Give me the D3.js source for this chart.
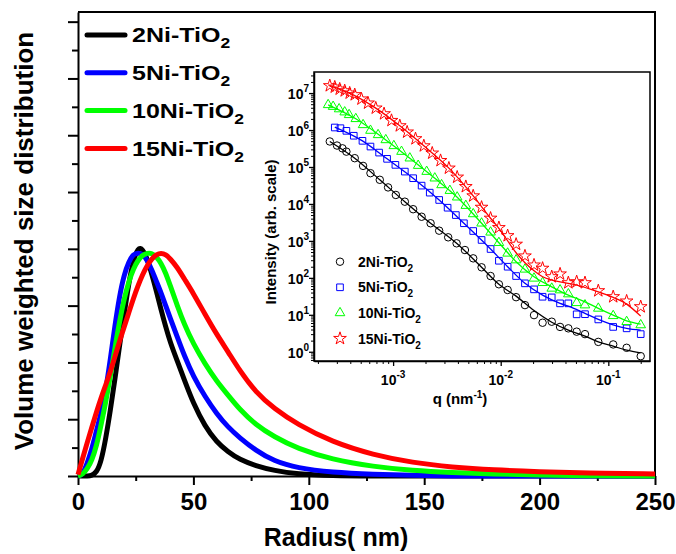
<!DOCTYPE html>
<html>
<head>
<meta charset="utf-8">
<script src="https://cdn.jsdelivr.net/npm/d3@7"></script>
<style>
  body { margin: 0; background: #fff; }
  text { font-family: Arial, "Liberation Sans", sans-serif; font-weight: bold; fill: #000; }
</style>
</head>
<body>
<div id="chart"></div>
<script>
// ---- main plot: volume weighted size distribution ----
const radius = [0, 2, 4, 6, 8, 10, 12, 14, 16, 18, 20, 22, 24, 26, 28, 30, 32, 34, 36, 38, 40, 43, 46, 50, 55, 60, 65, 70, 77, 85, 95, 110, 128, 145, 162, 180, 200, 220, 250];
const dist2Ni = [0, 0, 0, 0.02, 0.12, 0.5, 1.3, 2.3, 3.4, 4.6, 5.7, 6.8, 7.6, 8.05, 8.0, 7.65, 7.1, 6.5, 5.85, 5.25, 4.7, 4.05, 3.4, 2.55, 1.75, 1.2, 0.85, 0.58, 0.36, 0.19, 0.07, 0.01, 0, 0, 0, 0, 0, 0, 0];
const dist5Ni = [0, 0.05, 0.45, 0.95, 1.6, 2.2, 3.0, 4.1, 5.3, 6.35, 7.1, 7.55, 7.82, 7.86, 7.82, 7.6, 7.25, 6.85, 6.45, 6.0, 5.55, 4.9, 4.25, 3.5, 2.8, 2.2, 1.72, 1.35, 0.9, 0.52, 0.28, 0.13, 0.06, 0.02, 0, 0, 0, 0, 0];
const dist10Ni = [0, 0.05, 0.25, 0.55, 1.05, 1.8, 2.6, 3.5, 4.5, 5.45, 6.25, 6.85, 7.3, 7.6, 7.78, 7.85, 7.85, 7.72, 7.5, 7.15, 6.7, 6.0, 5.35, 4.65, 3.95, 3.35, 2.85, 2.35, 1.8, 1.38, 0.97, 0.58, 0.33, 0.19, 0.12, 0.07, 0.03, 0.01, 0];
const dist15Ni = [0.05, 0.62, 1.18, 1.72, 2.25, 2.75, 3.2, 3.67, 4.2, 4.75, 5.25, 5.75, 6.25, 6.7, 7.1, 7.42, 7.65, 7.8, 7.85, 7.8, 7.65, 7.35, 6.95, 6.43, 5.7, 5.0, 4.38, 3.72, 2.95, 2.37, 1.82, 1.2, 0.74, 0.47, 0.31, 0.21, 0.15, 0.11, 0.07];
const sampleNames = ["2Ni-TiO", "5Ni-TiO", "10Ni-TiO", "15Ni-TiO"];
const colors = ["#000000", "#0000ff", "#00ff00", "#ff0000"];
const xTicks = [0, 50, 100, 150, 200, 250];
const xMinor = [25, 75, 125, 175, 225];

// ---- inset: SAXS intensity ----
const q2 = [2.58e-4, 3.01e-4, 3.38e-4, 3.68e-4, 4.4e-4, 5.26e-4, 6.16e-4, 7.52e-4, 8.98e-4, 1.06e-3, 1.285e-3, 1.535e-3, 1.84e-3, 2.23e-3, 2.68e-3, 3.25e-3, 3.89e-3, 4.65e-3, 5.55e-3, 6.64e-3, 8.05e-3, 9.62e-3, 1.16e-2, 1.39e-2, 1.68e-2, 2.04e-2, 2.45e-2, 2.98e-2, 3.56e-2, 4.25e-2, 5.08e-2, 6.07e-2, 8.07e-2, 0.111, 0.148, 0.2];
const int2 = [4.9e5, 3.8e5, 3.2e5, 2.6e5, 1.73e5, 1.07e5, 6.8e4, 4.5e4, 2.8e4, 1.75e4, 1.15e4, 7.2e3, 4.5e3, 3.0e3, 1.89e3, 1.25e3, 860, 566, 337, 193, 112, 67, 47, 30, 18.3, 9.8, 6.1, 6.5, 4.7, 4.3, 3.5, 3.0, 1.85, 1.58, 1.28, 0.76];
const q5 = [2.87e-4, 3.24e-4, 3.68e-4, 4.31e-4, 5.19e-4, 6.16e-4, 7.41e-4, 8.79e-4, 1.05e-3, 1.285e-3, 1.535e-3, 1.84e-3, 2.19e-3, 2.68e-3, 3.21e-3, 3.83e-3, 4.55e-3, 5.55e-3, 6.64e-3, 8.05e-3, 9.62e-3, 1.16e-2, 1.39e-2, 1.68e-2, 2.04e-2, 2.45e-2, 2.98e-2, 3.56e-2, 4.25e-2, 5.08e-2, 6.07e-2, 8.07e-2, 0.111, 0.148, 0.2];
const int5 = [1.17e6, 1.12e6, 9.5e5, 7.0e5, 5.1e5, 3.57e5, 2.45e5, 1.66e5, 1.14e5, 7.5e4, 4.97e4, 3.13e4, 2.02e4, 1.28e4, 7.9e3, 5.0e3, 3.0e3, 1.85e3, 1.06e3, 603, 290, 200, 112, 71, 48.8, 30.8, 29.6, 20.4, 20.4, 10.3, 10.4, 7.5, 4.7, 4.3, 3.0];
const q10 = [2.49e-4, 2.77e-4, 3.15e-4, 3.55e-4, 3.9e-4, 4.5e-4, 5.26e-4, 6.16e-4, 7.25e-4, 8.55e-4, 1.016e-3, 1.197e-3, 1.43e-3, 1.71e-3, 2.05e-3, 2.44e-3, 2.82e-3, 3.37e-3, 3.94e-3, 4.74e-3, 5.55e-3, 6.64e-3, 8.05e-3, 9.62e-3, 1.16e-2, 1.39e-2, 1.68e-2, 2.04e-2, 2.45e-2, 2.98e-2, 3.56e-2, 4.25e-2, 5.08e-2, 6.07e-2, 8.07e-2, 0.111, 0.148, 0.2];
const int10 = [4.8e6, 4.3e6, 3.7e6, 3.05e6, 2.58e6, 2.01e6, 1.38e6, 9.7e5, 7.4e5, 5.4e5, 3.73e5, 2.61e5, 1.73e5, 1.09e5, 7.5e4, 4.97e4, 3.27e4, 2.29e4, 1.52e4, 9.0e3, 5.36e3, 3.0e3, 1.71e3, 893, 461, 303, 170, 97, 73.6, 51.9, 46.7, 36.4, 21.1, 18.3, 14.9, 9.4, 6.5, 5.3];
const q15 = [2.58e-4, 2.87e-4, 3.19e-4, 3.55e-4, 3.95e-4, 4.4e-4, 5.08e-4, 5.85e-4, 6.9e-4, 8.24e-4, 9.66e-4, 1.154e-3, 1.35e-3, 1.615e-3, 1.93e-3, 2.31e-3, 2.76e-3, 3.3e-3, 3.94e-3, 4.74e-3, 5.55e-3, 6.64e-3, 8.05e-3, 9.62e-3, 1.16e-2, 1.39e-2, 1.68e-2, 2.04e-2, 2.45e-2, 2.98e-2, 3.56e-2, 4.25e-2, 5.08e-2, 6.07e-2, 8.07e-2, 0.111, 0.148, 0.2];
const int15 = [1.58e7, 1.45e7, 1.28e7, 1.15e7, 1.0e7, 9.0e6, 6.9e6, 5.36e6, 3.92e6, 2.75e6, 1.81e6, 1.3e6, 8.8e5, 5.8e5, 3.73e5, 2.37e5, 1.49e5, 9.3e4, 5.3e4, 2.94e4, 1.65e4, 8.1e3, 4.1e3, 2.28e3, 1.38e3, 809, 390, 222, 181, 107, 127, 73.6, 78.3, 73.6, 44.7, 30.8, 23.5, 16.5];

// fitted curves
const fitQ2 = [2.58e-4, 4.4e-4, 7.52e-4, 1.285e-3, 2.23e-3, 3.89e-3, 6.64e-3, 9.62e-3, 1.39e-2, 2.04e-2, 2.98e-2, 4.25e-2, 6.07e-2, 8.07e-2, 0.111, 0.148, 0.2];
const fitI2 = [4.9e5, 1.73e5, 4.5e4, 1.15e4, 3.0e3, 860, 193, 67, 32, 13, 6.3, 3.85, 2.65, 1.85, 1.42, 1.1, 0.93];
const fitQ5 = [2.87e-4, 5.19e-4, 8.79e-4, 1.535e-3, 2.68e-3, 4.55e-3, 8.05e-3, 1.16e-2, 1.68e-2, 2.45e-2, 3.56e-2, 4.25e-2, 6.07e-2, 8.07e-2, 0.111, 0.148, 0.2];
const fitI5 = [1.2e6, 5.1e5, 1.66e5, 4.97e4, 1.28e4, 3.0e3, 603, 200, 71, 34, 20.4, 17.2, 10.9, 7.5, 5.3, 4.3, 3.85];
const fitQ10 = [2.49e-4, 4.5e-4, 8.55e-4, 1.43e-3, 2.44e-3, 3.94e-3, 6.64e-3, 9.62e-3, 1.39e-2, 2.04e-2, 2.98e-2, 4.25e-2, 6.07e-2, 8.07e-2, 0.111, 0.148, 0.2];
const fitI10 = [4.8e6, 2.01e6, 5.4e5, 1.73e5, 4.97e4, 1.52e4, 3.0e3, 893, 273, 107, 57, 34, 22.5, 14.9, 9.8, 6.9, 5.6];
const fitQ15 = [2.58e-4, 3.95e-4, 6.9e-4, 1.154e-3, 1.93e-3, 3.3e-3, 5.55e-3, 8.05e-3, 9.62e-3, 1.39e-2, 1.68e-2, 2.04e-2, 2.45e-2, 2.98e-2, 3.56e-2, 5.08e-2, 8.07e-2, 0.111, 0.148, 0.2];
const fitI15 = [1.6e7, 1.0e7, 3.92e6, 1.3e6, 3.73e5, 9.3e4, 1.65e4, 4.1e3, 2.19e3, 478, 256, 156, 107, 87, 78, 64, 42, 29.6, 19.5, 9.2];
const insetYExp = [0, 1, 2, 3, 4, 5, 6, 7];
const insetXExp = [-3, -2, -1];

const width = 676, height = 554;
const svg = d3.select("#chart").append("svg")
  .attr("width", width)
  .attr("height", height);

const x = d3.scaleLinear().domain([0, 250]).range([78, 655]);
const y = d3.scaleLinear().domain([0, 16.34]).range([476, 12]);

// top and right border of main frame
svg.append("path")
  .attr("d", `M${x(0)},${y(16.34)}H${x(250)}V${y(0)}`)
  .attr("fill", "none")
  .attr("stroke", "#000")
  .attr("stroke-width", 2);

// x axis, major + minor ticks
const xAxis = svg.append("g")
  .attr("transform", `translate(0,${y(0)})`)
  .call(d3.axisBottom(x).tickValues(xTicks).tickSize(9).tickSizeOuter(0).tickPadding(8));
xAxis.select(".domain").attr("stroke-width", 2);
xAxis.selectAll(".tick line").attr("stroke-width", 2);
xAxis.selectAll(".tick text")
  .attr("font-size", "24px")
  .attr("font-family", "Arial, 'Liberation Sans', sans-serif")
  .attr("font-weight", "bold");

svg.append("g")
  .attr("transform", `translate(0,${y(0)})`)
  .call(d3.axisBottom(x).tickValues(xMinor).tickSize(5).tickFormat(""))
  .call((g) => g.select(".domain").remove())
  .selectAll(".tick line").attr("stroke-width", 2);

// y axis: no labels, alternating long / short ticks
const yAxis = svg.append("g")
  .attr("transform", `translate(${x(0)},0)`)
  .call(d3.axisLeft(y).tickValues(d3.range(0, 17, 2)).tickSize(10).tickSizeOuter(0).tickFormat(""));
yAxis.select(".domain").attr("stroke-width", 2);
yAxis.selectAll(".tick line").attr("stroke-width", 2);

svg.append("g")
  .attr("transform", `translate(${x(0)},0)`)
  .call(d3.axisLeft(y).tickValues(d3.range(1, 17, 2)).tickSize(6).tickFormat(""))
  .call((g) => g.select(".domain").remove())
  .selectAll(".tick line").attr("stroke-width", 2);

// axis titles
svg.append("text")
  .attr("x", 336)
  .attr("y", 546)
  .attr("text-anchor", "middle")
  .attr("font-size", "25px")
  .text("Radius( nm)");

svg.append("text")
  .attr("transform", "translate(33,241) rotate(-90)")
  .attr("text-anchor", "middle")
  .attr("font-size", "26px")
  .text("Volume weighted size distribution");

// distribution curves
const distLine = d3.line()
  .x((d) => x(d[0]))
  .y((d) => y(d[1]))
  .curve(d3.curveBasis);

[dist2Ni, dist5Ni, dist10Ni, dist15Ni].forEach((vals, i) => {
  svg.append("path")
    .datum(radius.map((r, j) => [r, vals[j]]))
    .attr("d", distLine)
    .attr("fill", "none")
    .attr("stroke", colors[i])
    .attr("stroke-width", 5)
    .attr("stroke-linejoin", "round");
});

// main legend
sampleNames.forEach((name, i) => {
  const ly = 35 + i * 37.8;
  svg.append("line")
    .attr("x1", 87).attr("x2", 125)
    .attr("y1", ly).attr("y2", ly)
    .attr("stroke", colors[i])
    .attr("stroke-width", 5)
    .attr("stroke-linecap", "round");
  const t = svg.append("text")
    .attr("transform", `translate(132,${ly + 7.3}) scale(1.25,1)`)
    .attr("font-size", "20px");
  t.append("tspan").text(name);
  t.append("tspan").attr("dy", 6).attr("font-size", "14px").text("2");
});

// ---- inset ----
const ix = d3.scaleLog().domain([1.84e-4, 0.244]).range([314, 650]);
const iy = d3.scaleLog().domain([Math.pow(10, -0.25), Math.pow(10, 7.57)]).range([361, 72]);

svg.append("rect")
  .attr("x", 314).attr("y", 72)
  .attr("width", 336).attr("height", 289)
  .attr("fill", "#fff")
  .attr("stroke", "#000")
  .attr("stroke-width", 1.5);

const inset = svg.append("g");

// x ticks (log)
const xMinorLog = [];
[-4, -3, -2, -1].forEach((e) => {
  for (let k = 2; k <= 9; k++) {
    const v = k * Math.pow(10, e);
    if (v > 1.84e-4 && v < 0.244) xMinorLog.push(v);
  }
});
inset.append("g")
  .attr("transform", "translate(0,361)")
  .call(d3.axisBottom(ix).tickValues(insetXExp.map((e) => Math.pow(10, e))).tickSize(5).tickSizeOuter(0).tickFormat(""))
  .call((g) => g.select(".domain").attr("stroke-width", 1.5))
  .selectAll(".tick line").attr("stroke-width", 1.3);
inset.append("g")
  .attr("transform", "translate(0,361)")
  .call(d3.axisBottom(ix).tickValues(xMinorLog).tickSize(3).tickFormat(""))
  .call((g) => g.select(".domain").remove())
  .selectAll(".tick line").attr("stroke-width", 1);

insetXExp.forEach((e) => {
  const t = inset.append("text")
    .attr("x", ix(Math.pow(10, e)))
    .attr("y", 385)
    .attr("text-anchor", "middle")
    .attr("font-size", "14px");
  t.append("tspan").text("10");
  t.append("tspan").attr("dy", -7).attr("font-size", "10px").text(e);
});

// y ticks (log)
const yMinorLog = [];
d3.range(-1, 8).forEach((e) => {
  for (let k = 2; k <= 9; k++) {
    const v = k * Math.pow(10, e);
    if (v > Math.pow(10, -0.25) && v < Math.pow(10, 7.57)) yMinorLog.push(v);
  }
});
inset.append("g")
  .attr("transform", "translate(314,0)")
  .call(d3.axisLeft(iy).tickValues(insetYExp.map((e) => Math.pow(10, e))).tickSize(5).tickSizeOuter(0).tickFormat(""))
  .call((g) => g.select(".domain").attr("stroke-width", 1.5))
  .selectAll(".tick line").attr("stroke-width", 1.3);
inset.append("g")
  .attr("transform", "translate(314,0)")
  .call(d3.axisLeft(iy).tickValues(yMinorLog).tickSize(3).tickFormat(""))
  .call((g) => g.select(".domain").remove())
  .selectAll(".tick line").attr("stroke-width", 1);

insetYExp.forEach((e) => {
  const t = inset.append("text")
    .attr("x", 309)
    .attr("y", iy(Math.pow(10, e)) + 6)
    .attr("text-anchor", "end")
    .attr("font-size", "14px");
  t.append("tspan").text("10");
  t.append("tspan").attr("dy", -7).attr("font-size", "10px").text(e);
});

// inset titles
const qTitle = inset.append("text")
  .attr("x", 460)
  .attr("y", 404)
  .attr("text-anchor", "middle")
  .attr("font-size", "15px");
qTitle.append("tspan").text("q (nm");
qTitle.append("tspan").attr("dy", -6).attr("font-size", "10px").text("-1");
qTitle.append("tspan").attr("dy", 6).text(")");

inset.append("text")
  .attr("transform", "translate(276,232) rotate(-90)")
  .attr("text-anchor", "middle")
  .attr("font-size", "15px")
  .text("Intensity (arb. scale)");

// fits and points
const fitLine = d3.line()
  .x((d) => ix(d[0]))
  .y((d) => iy(d[1]))
  .curve(d3.curveMonotoneX);

const insetSeries = [
  { q: q2, v: int2, fq: fitQ2, fv: fitI2, sym: d3.symbolCircle, size: 44 },
  { q: q5, v: int5, fq: fitQ5, fv: fitI5, sym: d3.symbolSquare, size: 44 },
  { q: q10, v: int10, fq: fitQ10, fv: fitI10, sym: d3.symbolTriangle, size: 40 },
  { q: q15, v: int15, fq: fitQ15, fv: fitI15, sym: d3.symbolStar, size: 50 },
];

insetSeries.forEach((s, i) => {
  inset.append("path")
    .datum(s.fq.map((qq, j) => [qq, s.fv[j]]))
    .attr("d", fitLine)
    .attr("fill", "none")
    .attr("stroke", colors[i])
    .attr("stroke-width", 1.3);

  inset.selectAll(`path.pt${i}`)
    .data(s.q.map((qq, j) => [qq, s.v[j]]))
    .enter()
    .append("path")
    .attr("class", `pt${i}`)
    .attr("transform", (d) => `translate(${ix(d[0])},${iy(d[1])})`)
    .attr("d", d3.symbol().type(s.sym).size(s.size))
    .attr("fill", "none")
    .attr("stroke", colors[i])
    .attr("stroke-width", 1);
});

// inset legend
sampleNames.forEach((name, i) => {
  const ly = 261.7 + i * 25.6;
  inset.append("path")
    .attr("transform", `translate(340,${ly})`)
    .attr("d", d3.symbol().type(insetSeries[i].sym).size(insetSeries[i].size))
    .attr("fill", "none")
    .attr("stroke", colors[i])
    .attr("stroke-width", 1);
  const t = inset.append("text")
    .attr("x", 358)
    .attr("y", ly + 5)
    .attr("font-size", "14px");
  t.append("tspan").text(name);
  t.append("tspan").attr("dy", 5).attr("font-size", "10px").text("2");
});
</script>
</body>
</html>
